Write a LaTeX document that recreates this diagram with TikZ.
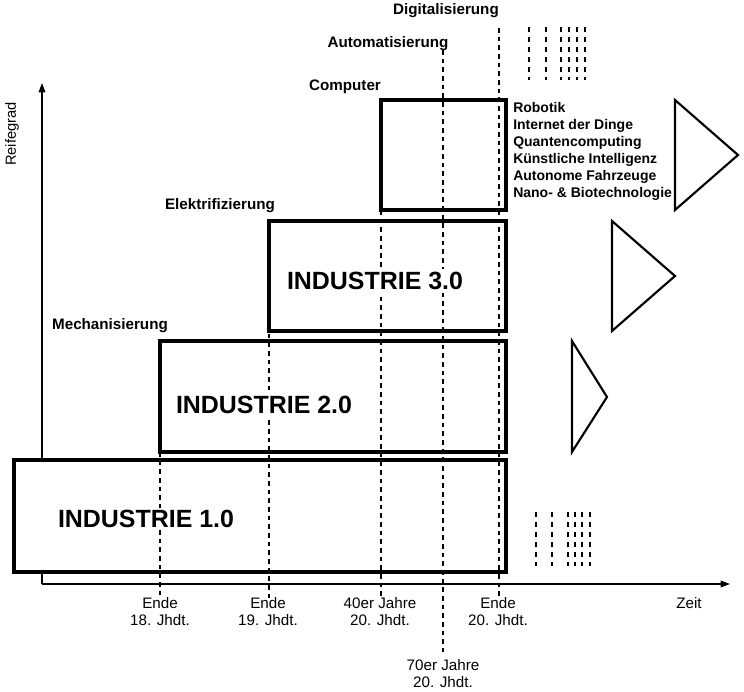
\documentclass[tikz,border=0pt]{standalone}
\usepackage{fontspec}
\setmainfont{Liberation Sans}
\usetikzlibrary{arrows.meta}
\begin{document}
\begin{tikzpicture}[x=0.75pt,y=-0.75pt,
  box/.style={line width=2.3pt, fill=white},
  tri/.style={line width=1.6pt, line join=miter},
  axis/.style={line width=0.8pt,-{Triangle[length=7pt,width=5pt]}},
  vdash/.style={line width=0.8pt, dash pattern=on 3.5pt off 3pt},
  sdash/.style={line width=0.9pt, dash pattern=on 4pt off 3.5pt},
  phase/.style={font=\bfseries\fontsize{11.4pt}{13pt}\selectfont, inner sep=0pt},
  ind/.style={font=\bfseries\fontsize{18.7pt}{22pt}\selectfont, inner sep=2pt, fill=white},
  tick/.style={font=\fontsize{11.4pt}{12.75pt}\selectfont, align=center, inner sep=0pt},
  tech/.style={font=\bfseries\fontsize{10.5pt}{12.75pt}\selectfont, align=left, inner sep=0pt, anchor=north west}]
\useasboundingbox (0,0) rectangle (744,692);
% axes
\coordinate (yo) at (42,584);
\coordinate (yt) at (42,83);
\coordinate (xo) at (42,584);
\coordinate (xt) at (730,584);
\draw[axis] (yo) -- (yt);
\draw[axis] (xo) -- (xt);
\node[rotate=90, font=\fontsize{11pt}{12pt}\selectfont, inner sep=0pt] (reife) at (12,134) {Reifegrad};
\node[tick] (zeit) at (689,603) {Zeit};
% boxes
\draw[box] (14,460) rectangle (506,572);
\draw[box] (160,341) rectangle (506,452);
\draw[box] (269,221) rectangle (506,331);
\draw[box] (381,100) rectangle (506,210);
% dashed verticals
\coordinate (d1a) at (160,452); \coordinate (d1b) at (160,598);
\coordinate (d2a) at (269,221); \coordinate (d2b) at (269,598);
\coordinate (d3a) at (381,210); \coordinate (d3b) at (381,598);
\coordinate (d4a) at (443,50);  \coordinate (d4b) at (443,652);
\coordinate (d5a) at (499,28);  \coordinate (d5b) at (499,598);
\draw[vdash] (d1a) -- (d1b);
\draw[vdash] (d2a) -- (d2b);
\draw[vdash] (d3a) -- (d3b);
\draw[vdash] (d4a) -- (d4b);
\draw[vdash] (d5a) -- (d5b);
\node[ind] (i1) at (146,519) {INDUSTRIE 1.0};
\node[ind] (i2) at (264,405) {INDUSTRIE 2.0};
\node[ind] (i3) at (375,281) {INDUSTRIE 3.0};
% phase labels
\node[phase] (mech) at (110,326) {Mechanisierung};
\node[phase] (elek) at (220,206) {Elektrifizierung};
\node[phase] (comp) at (345,87) {Computer};
\node[phase] (auto) at (388,44) {Automatisierung};
\node[phase] (digi) at (446,11) {Digitalisierung};
% technology list
\node[tech] (techlist) at (513,102) {Robotik\\Internet der Dinge\\Quantencomputing\\Künstliche Intelligenz\\Autonome Fahrzeuge\\Nano- \& Biotechnologie};
% triangles
\draw[tri] (572,341) -- (607,397) -- (572,452) -- cycle;
\draw[tri] (612,221) -- (675,276) -- (612,331) -- cycle;
\draw[tri] (675,100) -- (738,155) -- (675,210) -- cycle;
% small dash groups
\foreach \x in {529,546,561,569,577,585} \draw[sdash] (\x,27) -- (\x,80);
\foreach \x in {536,552,568,575,582,590} \draw[sdash] (\x,512) -- (\x,566);
% time labels
\node[tick] (t1) at (160,612) {Ende\\18. Jhdt.};
\node[tick] (t2) at (268,612) {Ende\\19. Jhdt.};
\node[tick] (t3) at (380,612) {40er Jahre\\20. Jhdt.};
\node[tick] (t4) at (498,612) {Ende\\20. Jhdt.};
\node[tick] (t5) at (443,674) {70er Jahre\\20. Jhdt.};
\end{tikzpicture}
\end{document}
